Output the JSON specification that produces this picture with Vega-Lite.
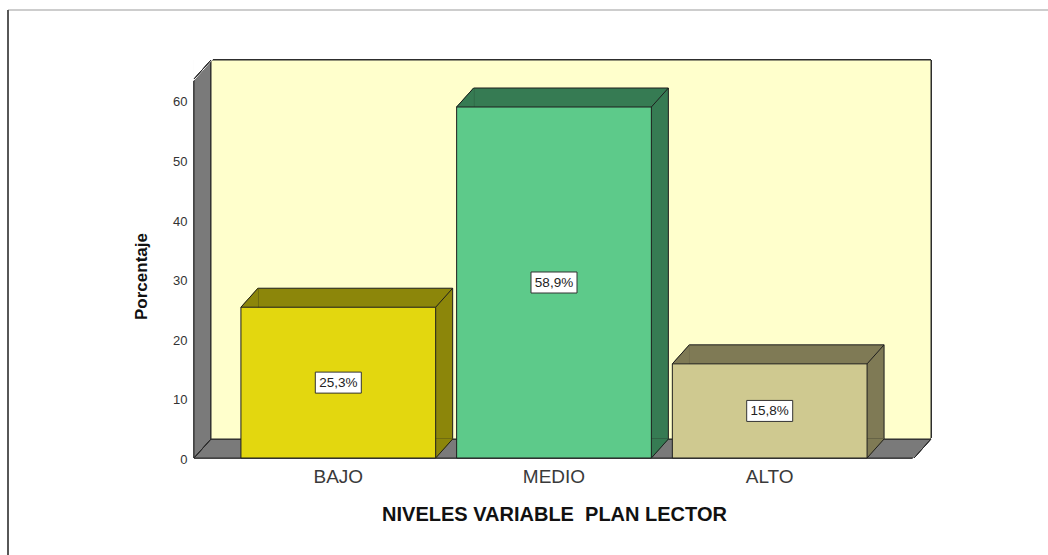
{
  "$schema": "https://vega.github.io/schema/vega-lite/v6.json",
  "width": 720,
  "height": 379,
  "autosize": {"type": "none"},
  "padding": {"left": 194, "top": 79, "right": 134, "bottom": 97},
  "background": "white",
  "config": {"view": {"stroke": null}, "font": "Liberation Sans"},
  "data": {
    "values": [
      {"nivel": "BAJO", "porcentaje": 25.3, "etiqueta": "25,3%"},
      {"nivel": "MEDIO", "porcentaje": 58.9, "etiqueta": "58,9%"},
      {"nivel": "ALTO", "porcentaje": 15.8, "etiqueta": "15,8%"}
    ]
  },
  "resolve": {"scale": {"x": "independent", "fill": "independent"}, "axis": {"x": "independent"}},
  "layer": [
    {
      "mark": {"type": "rule", "stroke": "#cccccc", "strokeWidth": 1.5, "yOffset": -69, "xOffset": -186, "x2Offset": 134},
      "encoding": {
        "x": {"datum": 0, "type": "quantitative", "scale": {"domain": [0, 1], "nice": false, "zero": false}, "axis": null},
        "x2": {"datum": 1},
        "y": {"datum": 63.6, "type": "quantitative", "scale": {"domain": [0, 63.6], "nice": false}}
      }
    },
    {
      "mark": {"type": "rule", "stroke": "#555555", "strokeWidth": 1.5, "xOffset": -186, "yOffset": -69, "y2Offset": 97},
      "encoding": {
        "x": {"datum": 0, "type": "quantitative", "scale": {"domain": [0, 1], "nice": false, "zero": false}, "axis": null},
        "y": {"datum": 63.6, "type": "quantitative", "scale": {"domain": [0, 63.6], "nice": false}},
        "y2": {"datum": 0}
      }
    },
    {
      "mark": {"type": "rect", "fill": "#7a7a7a", "stroke": "#2a2a2a", "strokeWidth": 1, "x2Offset": 17, "yOffset": -19},
      "encoding": {
        "x": {"datum": 0, "type": "quantitative", "scale": {"domain": [0, 1], "nice": false, "zero": false}, "axis": null},
        "x2": {"datum": 1},
        "y": {"datum": 63.6, "type": "quantitative", "scale": {"domain": [0, 63.6], "nice": false}},
        "y2": {"datum": 0}
      }
    },
    {
      "mark": {"type": "rect", "fill": "#ffffcc", "stroke": "#2a2a2a", "strokeWidth": 1, "xOffset": 17, "x2Offset": 17, "yOffset": -19, "y2Offset": -19},
      "encoding": {
        "x": {"datum": 0, "type": "quantitative", "scale": {"domain": [0, 1], "nice": false, "zero": false}, "axis": null},
        "x2": {"datum": 1},
        "y": {"datum": 63.6, "type": "quantitative", "scale": {"domain": [0, 63.6], "nice": false}},
        "y2": {"datum": 0}
      }
    },
    {
      "mark": {"type": "point", "shape": "M0,0L0,-19.5L17.5,-19.5Z", "size": 4, "filled": true, "fill": "white", "stroke": "white", "strokeWidth": 1.5, "opacity": 1},
      "encoding": {
        "x": {"datum": 0, "type": "quantitative", "scale": {"domain": [0, 1], "nice": false, "zero": false}, "axis": null},
        "y": {"datum": 63.6, "type": "quantitative", "scale": {"domain": [0, 63.6], "nice": false}}
      }
    },
    {
      "mark": {"type": "point", "shape": "M0,0.5L18,0.5L18,-19Z", "size": 4, "filled": true, "fill": "white", "stroke": "white", "strokeWidth": 1.5, "opacity": 1},
      "encoding": {
        "x": {"datum": 1, "type": "quantitative", "scale": {"domain": [0, 1], "nice": false, "zero": false}, "axis": null},
        "y": {"datum": 0, "type": "quantitative", "scale": {"domain": [0, 63.6], "nice": false}}
      }
    },
    {
      "mark": {"type": "point", "shape": "M0,0L17,-19", "size": 4, "filled": false, "stroke": "#2a2a2a", "strokeWidth": 1, "opacity": 1},
      "encoding": {
        "x": {"datum": 0, "type": "quantitative", "scale": {"domain": [0, 1], "nice": false, "zero": false}, "axis": null},
        "y": {"datum": 63.6, "type": "quantitative", "scale": {"domain": [0, 63.6], "nice": false}}
      }
    },
    {
      "mark": {"type": "point", "shape": "M0,0L17,-19", "size": 4, "filled": false, "stroke": "#2a2a2a", "strokeWidth": 1, "opacity": 1},
      "encoding": {
        "x": {"datum": 0, "type": "quantitative", "scale": {"domain": [0, 1], "nice": false, "zero": false}, "axis": null},
        "y": {"datum": 0, "type": "quantitative", "scale": {"domain": [0, 63.6], "nice": false}}
      }
    },
    {
      "mark": {"type": "point", "shape": "M0,0L17,-19", "size": 4, "filled": false, "stroke": "#2a2a2a", "strokeWidth": 1, "opacity": 1},
      "encoding": {
        "x": {"datum": 1, "type": "quantitative", "scale": {"domain": [0, 1], "nice": false, "zero": false}, "axis": null},
        "y": {"datum": 0, "type": "quantitative", "scale": {"domain": [0, 63.6], "nice": false}}
      }
    },
    {
      "mark": {"type": "rect", "stroke": "#1e1e1e", "strokeWidth": 1, "xOffset": 17, "x2Offset": 17, "yOffset": -19, "y2Offset": -19},
      "encoding": {
        "x": {"field": "nivel", "type": "nominal", "scale": {"type": "band", "domain": ["BAJO", "MEDIO", "ALTO"], "paddingInner": 0.0972, "paddingOuter": 0.2176}, "axis": null},
        "y": {"field": "porcentaje", "type": "quantitative", "scale": {"domain": [0, 63.6], "nice": false}},
        "y2": {"datum": 0},
        "fill": {"field": "nivel", "type": "nominal", "scale": {"domain": ["BAJO", "MEDIO", "ALTO"], "range": ["#8c860a", "#367b53", "#7f7a55"]}, "legend": null}
      }
    },
    {
      "mark": {"type": "point", "shape": "M0,0L17,-19L17,0Z", "size": 4, "filled": true, "strokeWidth": 1, "opacity": 1},
      "encoding": {
        "x": {"field": "nivel", "type": "nominal", "bandPosition": 0, "scale": {"type": "band", "domain": ["BAJO", "MEDIO", "ALTO"], "paddingInner": 0.0972, "paddingOuter": 0.2176}, "axis": null},
        "y": {"field": "porcentaje", "type": "quantitative", "scale": {"domain": [0, 63.6], "nice": false}},
        "fill": {"field": "nivel", "type": "nominal", "scale": {"domain": ["BAJO", "MEDIO", "ALTO"], "range": ["#8c860a", "#367b53", "#7f7a55"]}, "legend": null},
        "stroke": {"field": "nivel", "type": "nominal", "scale": {"domain": ["BAJO", "MEDIO", "ALTO"], "range": ["#8c860a", "#367b53", "#7f7a55"]}, "legend": null}
      }
    },
    {
      "mark": {"type": "point", "shape": "M0,0L17,-19L0,-19Z", "size": 4, "filled": true, "strokeWidth": 1, "opacity": 1},
      "encoding": {
        "x": {"field": "nivel", "type": "nominal", "bandPosition": 1, "scale": {"type": "band", "domain": ["BAJO", "MEDIO", "ALTO"], "paddingInner": 0.0972, "paddingOuter": 0.2176}, "axis": null},
        "y": {"datum": 0, "type": "quantitative", "scale": {"domain": [0, 63.6], "nice": false}},
        "fill": {"field": "nivel", "type": "nominal", "scale": {"domain": ["BAJO", "MEDIO", "ALTO"], "range": ["#8c860a", "#367b53", "#7f7a55"]}, "legend": null},
        "stroke": {"field": "nivel", "type": "nominal", "scale": {"domain": ["BAJO", "MEDIO", "ALTO"], "range": ["#8c860a", "#367b53", "#7f7a55"]}, "legend": null}
      }
    },
    {
      "mark": {"type": "point", "shape": "M0,0L17,-19", "size": 4, "filled": false, "stroke": "#1e1e1e", "strokeWidth": 1, "opacity": 1},
      "encoding": {
        "x": {"field": "nivel", "type": "nominal", "bandPosition": 0, "scale": {"type": "band", "domain": ["BAJO", "MEDIO", "ALTO"], "paddingInner": 0.0972, "paddingOuter": 0.2176}, "axis": null},
        "y": {"field": "porcentaje", "type": "quantitative", "scale": {"domain": [0, 63.6], "nice": false}}
      }
    },
    {
      "mark": {"type": "point", "shape": "M0,0L17,-19", "size": 4, "filled": false, "stroke": "#1e1e1e", "strokeWidth": 1, "opacity": 1},
      "encoding": {
        "x": {"field": "nivel", "type": "nominal", "bandPosition": 1, "scale": {"type": "band", "domain": ["BAJO", "MEDIO", "ALTO"], "paddingInner": 0.0972, "paddingOuter": 0.2176}, "axis": null},
        "y": {"field": "porcentaje", "type": "quantitative", "scale": {"domain": [0, 63.6], "nice": false}}
      }
    },
    {
      "mark": {"type": "point", "shape": "M0,0L17,-19", "size": 4, "filled": false, "stroke": "#1e1e1e", "strokeWidth": 1, "opacity": 1},
      "encoding": {
        "x": {"field": "nivel", "type": "nominal", "bandPosition": 1, "scale": {"type": "band", "domain": ["BAJO", "MEDIO", "ALTO"], "paddingInner": 0.0972, "paddingOuter": 0.2176}, "axis": null},
        "y": {"datum": 0, "type": "quantitative", "scale": {"domain": [0, 63.6], "nice": false}}
      }
    },
    {
      "mark": {"type": "rect", "stroke": "#1e1e1e", "strokeWidth": 1},
      "encoding": {
        "x": {
          "field": "nivel", "type": "nominal",
          "scale": {"type": "band", "domain": ["BAJO", "MEDIO", "ALTO"], "paddingInner": 0.0972, "paddingOuter": 0.2176},
          "axis": {"title": "NIVELES VARIABLE\u00a0 PLAN LECTOR", "labelAngle": 0, "ticks": false, "domain": false, "grid": false, "labelFont": "Liberation Sans", "labelFontSize": 19, "labelColor": "#3a3a3a", "labelPadding": 9, "titleFont": "Liberation Sans", "titleFontSize": 20, "titleFontWeight": "bold", "titleColor": "#111111", "titlePadding": 18}
        },
        "y": {
          "field": "porcentaje", "type": "quantitative",
          "scale": {"domain": [0, 63.6], "nice": false},
          "axis": {"title": "Porcentaje", "values": [0, 10, 20, 30, 40, 50, 60], "ticks": false, "domain": false, "grid": false, "labelPadding": 7, "labelOffset": 1.5, "labelFont": "Liberation Sans", "labelFontSize": 13, "labelColor": "#333333", "titleFont": "Liberation Sans", "titleFontSize": 17, "titleFontWeight": "bold", "titleColor": "#111111", "titlePadding": 22, "titleY": 197}
        },
        "y2": {"datum": 0},
        "fill": {"field": "nivel", "type": "nominal", "scale": {"domain": ["BAJO", "MEDIO", "ALTO"], "range": ["#e3d70f", "#5dca8a", "#cfc990"]}, "legend": null}
      }
    },
    {
      "transform": [{"calculate": "datum.porcentaje / 2", "as": "mitad"}],
      "mark": {"type": "point", "shape": "M-23,-10.5H23V10.5H-23Z", "size": 4, "filled": true, "fill": "white", "stroke": "#333333", "strokeWidth": 1, "opacity": 1},
      "encoding": {
        "x": {"field": "nivel", "type": "nominal", "scale": {"type": "band", "domain": ["BAJO", "MEDIO", "ALTO"], "paddingInner": 0.0972, "paddingOuter": 0.2176}, "axis": null},
        "y": {"field": "mitad", "type": "quantitative", "scale": {"domain": [0, 63.6], "nice": false}}
      }
    },
    {
      "transform": [{"calculate": "datum.porcentaje / 2", "as": "mitad"}],
      "mark": {"type": "text", "font": "Liberation Sans", "fontSize": 13.5, "fill": "#222222", "align": "center", "baseline": "middle", "dy": 0.5},
      "encoding": {
        "x": {"field": "nivel", "type": "nominal", "scale": {"type": "band", "domain": ["BAJO", "MEDIO", "ALTO"], "paddingInner": 0.0972, "paddingOuter": 0.2176}, "axis": null},
        "y": {"field": "mitad", "type": "quantitative", "scale": {"domain": [0, 63.6], "nice": false}},
        "text": {"field": "etiqueta"}
      }
    }
  ]
}
